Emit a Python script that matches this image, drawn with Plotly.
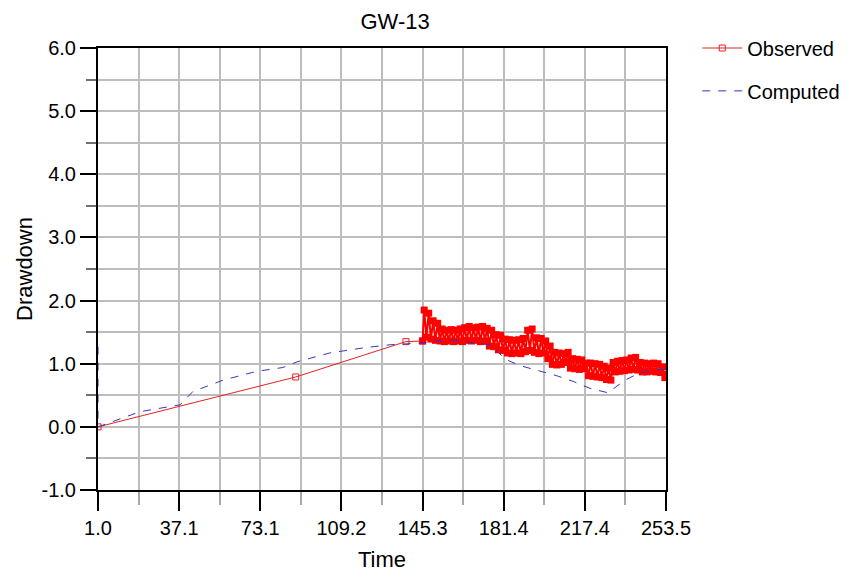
import plotly.graph_objects as go

# ---- data ----
obs_time = [1.0, 88.9, 137.9, 145.3, 146, 147, 148, 149, 150, 151, 152, 153, 154, 155, 156, 157, 158, 159, 160,
            161, 162, 163, 164, 165, 166, 167, 168, 169, 170, 171, 172, 173, 174, 175, 176, 177, 178, 179, 180,
            181, 182, 183, 184, 185, 186, 187, 188, 189, 190, 191, 192, 193, 194, 195, 196, 197, 198, 199, 200,
            201, 202, 203, 204, 205, 206, 207, 208, 209, 210, 211, 212, 213, 214, 215, 216, 217, 218, 219, 220,
            221, 222, 223, 224, 225, 226, 227, 228, 229, 230, 231, 232, 233, 234, 235, 236, 237, 238, 239, 240,
            241, 242, 243, 244, 245, 246, 247, 248, 249, 250, 251, 252, 253, 253.5]
obs_drawdown = [0.0, 0.79, 1.35, 1.36, 1.85, 1.42, 1.80, 1.39, 1.68, 1.37, 1.64, 1.36, 1.55, 1.35, 1.53, 1.36, 1.54, 1.35, 1.53,
                1.36, 1.55, 1.35, 1.57, 1.37, 1.59, 1.36, 1.57, 1.37, 1.58, 1.35, 1.59, 1.36, 1.56, 1.28, 1.53, 1.27, 1.46, 1.22, 1.45,
                1.21, 1.39, 1.17, 1.38, 1.16, 1.37, 1.17, 1.38, 1.16, 1.40, 1.19, 1.53, 1.21, 1.55, 1.18, 1.41, 1.16, 1.40, 1.17, 1.36,
                1.08, 1.28, 0.99, 1.18, 0.98, 1.17, 0.99, 1.16, 1.02, 1.18, 0.93, 1.08, 0.92, 1.07, 0.91, 1.06, 0.92, 1.01, 0.81, 1.01,
                0.80, 1.00, 0.79, 0.99, 0.78, 0.96, 0.75, 0.93, 0.74, 1.02, 0.87, 1.04, 0.88, 1.05, 0.89, 1.06, 0.90, 1.09, 0.91, 1.10,
                0.90, 1.02, 0.87, 1.01, 0.87, 1.00, 0.88, 1.01, 0.87, 1.00, 0.86, 0.95, 0.78, 0.83]

comp_time = [1.0, 1.0, 19.7, 37.5, 43.2, 56.6, 71.7, 83.2, 89.5, 104.0, 118.8, 130.8, 145.5, 149.9, 157.5,
             167.7, 175.3, 181.0, 182.8, 188.6, 196.0, 204.9, 212.2, 219.7, 227.7, 232.2, 235.3, 242.0, 249.5, 253.5]
comp_drawdown = [1.27, 0.0, 0.24, 0.35, 0.56, 0.74, 0.88, 0.94, 1.03, 1.17, 1.25, 1.30, 1.33, 1.35, 1.38,
                 1.33, 1.30, 1.11, 1.06, 0.97, 0.90, 0.81, 0.72, 0.61, 0.54, 0.65, 0.74, 0.86, 0.91, 0.90]

y_tickvals = [-1.0, 0.0, 1.0, 2.0, 3.0, 4.0, 5.0, 6.0]
y_ticktext = ["-1.0", "0.0", "1.0", "2.0", "3.0", "4.0", "5.0", "6.0"]

x_tick0 = 1.0
x_end = 253.5
x_step = (253.5 - 1.0) / 7

N_SPARSE = 4  # first manual readings, before the logger record starts

FONT = "Liberation Sans, Arial, sans-serif"
RED = "#ff0000"
BLUE = "#3434c4"

fig = go.Figure()
# sparse early readings (also carries the legend entry)
fig.add_trace(go.Scatter(
    x=obs_time[:N_SPARSE], y=obs_drawdown[:N_SPARSE], mode="lines+markers", name="Observed",
    line=dict(color="#e82020", width=1),
    marker=dict(symbol="square-open", size=6, color="#e82020", line=dict(width=1, color="#e82020")),
    legend="legend", showlegend=True,
))
# dense logger record
fig.add_trace(go.Scatter(
    x=obs_time[N_SPARSE - 1:], y=obs_drawdown[N_SPARSE - 1:], mode="lines+markers", name="Observed",
    line=dict(color=RED, width=2),
    marker=dict(symbol="square", size=7, color=RED, line=dict(width=0)),
    showlegend=False,
))
fig.add_trace(go.Scatter(
    x=comp_time, y=comp_drawdown, mode="lines", name="Computed",
    line=dict(color=BLUE, width=1, dash="8px,8px"),
    legend="legend2", showlegend=True,
))

fig.update_layout(
    width=836, height=564,
    paper_bgcolor="white", plot_bgcolor="white",
    margin=dict(l=90, r=178, t=40, b=82, autoexpand=False),
    font=dict(family=FONT, size=20, color="black"),
    showlegend=True,
    title=dict(text="GW-13", x=0.523, xref="paper", xanchor="center", y=0.977, yanchor="middle",
               font=dict(size=22, family=FONT)),
    legend=dict(x=1.055, y=1.0, xanchor="left", yanchor="middle", bgcolor="rgba(0,0,0,0)",
                font=dict(size=20, family=FONT), itemwidth=40),
    legend2=dict(x=1.055, y=0.903, xanchor="left", yanchor="middle", bgcolor="rgba(0,0,0,0)",
                 font=dict(size=20, family=FONT), itemwidth=40),
    xaxis=dict(
        range=[x_tick0, x_end], tick0=x_tick0, dtick=x_step, tickformat=".1f",
        showline=True, linecolor="black", linewidth=2, mirror=True,
        ticks="outside", ticklen=19, tickwidth=2, tickcolor="black",
        showgrid=True, gridcolor="#bdbdbd", gridwidth=2,
        minor=dict(dtick=x_step / 2, tick0=x_tick0, ticks="outside", ticklen=13, tickwidth=2,
                   tickcolor="#a8a8a8", showgrid=True, gridcolor="#bdbdbd", gridwidth=2),
        zeroline=False, layer="below traces", automargin=False,
        title=dict(text="Time", font=dict(size=22, family=FONT), standoff=23),
        tickfont=dict(size=20, family=FONT),
    ),
    yaxis=dict(
        range=[-1.0, 6.0], tickmode="array", tickvals=y_tickvals, ticktext=y_ticktext,
        showline=True, linecolor="black", linewidth=2, mirror=True,
        ticks="outside", ticklen=16, tickwidth=2, tickcolor="black",
        showgrid=True, gridcolor="#bdbdbd", gridwidth=2,
        minor=dict(dtick=0.5, tick0=0, ticks="outside", ticklen=10, tickwidth=2,
                   tickcolor="#707070", showgrid=True, gridcolor="#bdbdbd", gridwidth=2),
        zeroline=False, layer="below traces", automargin=False,
        title=dict(text="Drawdown", font=dict(size=22, family=FONT), standoff=3),
        tickfont=dict(size=20, family=FONT),
    ),
)

fig.write_html("out.html")
